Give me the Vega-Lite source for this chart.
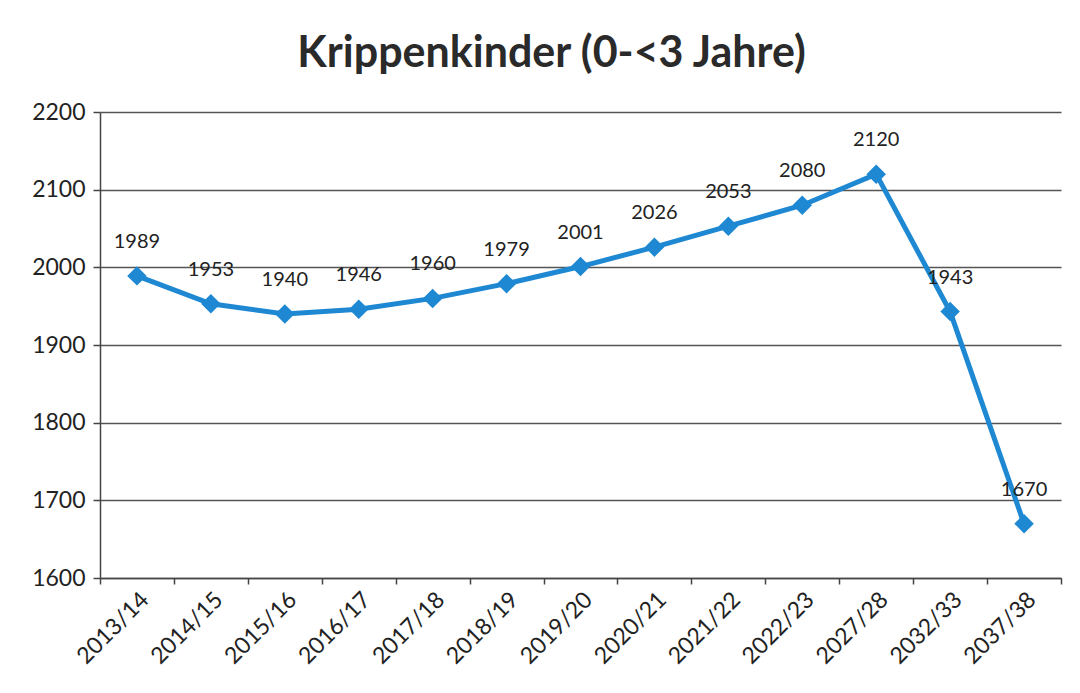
{
  "$schema": "https://vega.github.io/schema/vega-lite/v6.json",
  "autosize": {"type": "none"},
  "width": 961,
  "height": 466,
  "padding": {"left": 100, "top": 112, "right": 19, "bottom": 115},
  "background": "white",
  "title": {
    "text": "Krippenkinder (0-<3 Jahre)",
    "font": "Lato",
    "fontSize": 43,
    "fontWeight": "bold",
    "color": "#2a2a2a",
    "anchor": "middle",
    "dx": -29,
    "offset": 25
  },
  "data": {
    "values": [
      {"jahr": "2013/14", "wert": 1989},
      {"jahr": "2014/15", "wert": 1953},
      {"jahr": "2015/16", "wert": 1940},
      {"jahr": "2016/17", "wert": 1946},
      {"jahr": "2017/18", "wert": 1960},
      {"jahr": "2018/19", "wert": 1979},
      {"jahr": "2019/20", "wert": 2001},
      {"jahr": "2020/21", "wert": 2026},
      {"jahr": "2021/22", "wert": 2053},
      {"jahr": "2022/23", "wert": 2080},
      {"jahr": "2027/28", "wert": 2120},
      {"jahr": "2032/33", "wert": 1943},
      {"jahr": "2037/38", "wert": 1670}
    ]
  },
  "encoding": {
    "x": {
      "field": "jahr",
      "type": "ordinal",
      "sort": null,
      "scale": {"paddingInner": 0, "paddingOuter": 0},
      "axis": {
        "title": null,
        "labelAngle": -45,
        "labelFont": "Lato",
        "labelFontSize": 23,
        "labelColor": "#222222",
        "labelPadding": 4,
        "tickBand": "extent",
        "tickSize": 6,
        "tickColor": "#444444",
        "tickWidth": 1.5,
        "domainColor": "#444444",
        "domainWidth": 1.5,
        "grid": false
      }
    },
    "y": {
      "field": "wert",
      "type": "quantitative",
      "scale": {"domain": [1600, 2200], "nice": false, "zero": false},
      "axis": {
        "title": null,
        "format": "d",
        "values": [1600, 1700, 1800, 1900, 2000, 2100, 2200],
        "labelFont": "Lato",
        "labelFontSize": 23,
        "labelColor": "#222222",
        "labelPadding": 8,
        "tickSize": 7,
        "tickColor": "#444444",
        "tickWidth": 1.5,
        "domainColor": "#444444",
        "domainWidth": 1.5,
        "grid": true,
        "gridColor": "#555555",
        "gridWidth": 1.3
      }
    }
  },
  "layer": [
    {"mark": {"type": "line", "color": "#1e88d2", "strokeWidth": 5}},
    {"mark": {"type": "point", "shape": "diamond", "filled": true, "color": "#1e88d2", "size": 380, "opacity": 1}},
    {
      "mark": {"type": "text", "font": "Lato", "fontSize": 20, "color": "#222222", "dy": -34, "baseline": "middle"},
      "encoding": {"text": {"field": "wert", "type": "quantitative", "format": "d"}}
    }
  ],
  "config": {"view": {"stroke": null}}
}
